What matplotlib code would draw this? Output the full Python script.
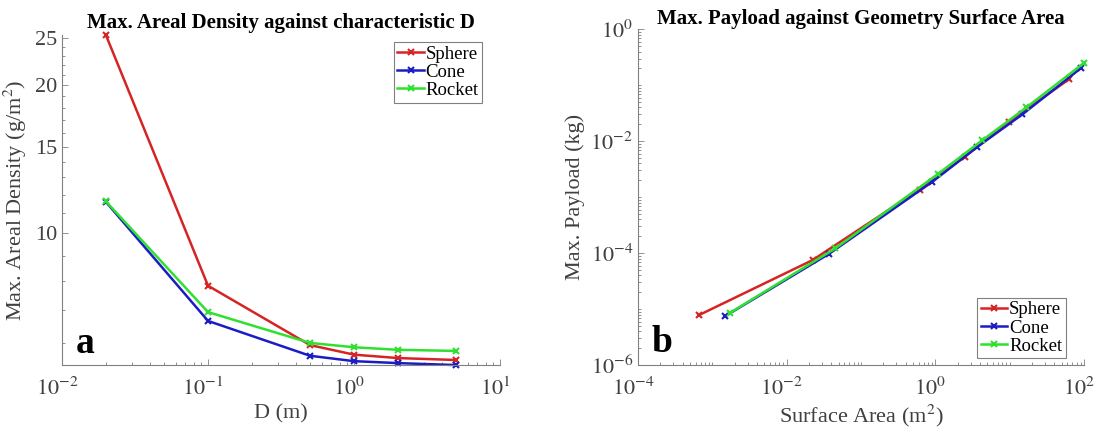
import matplotlib
matplotlib.use('Agg')
import matplotlib.pyplot as plt
import matplotlib.transforms as mtransforms
import numpy as np
from matplotlib.ticker import FixedLocator, LogLocator, NullFormatter, FixedFormatter, FuncFormatter

# characteristic diameter D (m)
diameters = [0.02, 0.1, 0.5, 1, 2, 5]

# max. areal density (g/m^2) for each geometry
sphereDensity = [25.3, 7.83, 5.93, 5.67, 5.58, 5.53]
coneDensity = [11.59, 6.64, 5.64, 5.50, 5.45, 5.40]
rocketDensity = [11.62, 6.92, 5.99, 5.87, 5.80, 5.77]

# surface area (m^2) and max. payload (kg)
sphereArea = [6.6e-4, 0.0223, 0.618, 2.48, 9.8, 63]
spherePayload = [7.8e-6, 7.5e-5, 1.37e-3, 5.25e-3, 0.0221, 0.128]
coneArea = [1.49e-3, 0.0367, 0.908, 3.67, 14.8, 90.6]
conePayload = [7.5e-6, 9.6e-5, 1.87e-3, 7.9e-3, 0.030, 0.201]
rocketArea = [1.74e-3, 0.045, 1.08, 4.29, 16.8, 100]
rocketPayload = [8.6e-6, 1.21e-4, 2.58e-3, 0.0104, 0.040, 0.25]

labels = ['Sphere', 'Cone', 'Rocket']
colors = ['#d62424', '#1c1cc4', '#30e030']
densityTicks = [10, 15, 20, 25]

plt.rcParams['font.family'] = ['Liberation Serif', 'DejaVu Serif']
plt.rcParams['mathtext.fontset'] = 'stix'

axisGray = '#808080'
textGray = '#404040'


def PowerLabel(value, pos):
    return r'$\mathrm{10^{%d}}$' % int(round(np.log10(value)))


def StyleAxes(ax, fig):
    for side in ['top', 'right']:
        ax.spines[side].set_visible(False)
    for side in ['left', 'bottom']:
        ax.spines[side].set_color(axisGray)
        ax.spines[side].set_linewidth(0.8)
    ax.tick_params(which='both', direction='in', colors=axisGray, labelcolor=textGray,
                   labelsize=16, width=0.6)
    ax.tick_params(which='major', length=4)
    ax.tick_params(which='minor', length=2)
    ax.tick_params(axis='x', pad=9)
    # centre the power labels on their base rather than the whole string
    shift = mtransforms.ScaledTranslation(-5 / 100, 0, fig.dpi_scale_trans)
    for lbl in ax.get_xticklabels():
        lbl.set_transform(lbl.get_transform() + shift)


def DrawLines(ax, xs, ys):
    for x, y, label, color in zip(xs, ys, labels, colors):
        ax.plot(x, y, color=color, lw=1.8, marker='x', ms=5, mew=1.5,
                label=label, clip_on=False)


def DrawLegend(ax, loc, anchor):
    leg = ax.legend(loc=loc, bbox_to_anchor=anchor, fontsize=13.5, fancybox=False,
                    edgecolor=axisGray, framealpha=1, handlelength=1.4,
                    handletextpad=0.1, labelspacing=0.05, borderpad=0.2,
                    borderaxespad=0)
    leg.get_frame().set_linewidth(0.8)


fig = plt.figure(figsize=(10.96, 4.3), dpi=100)

# panel a: areal density against D
axA = fig.add_axes([0.0566, 0.151, 0.3996, 0.767])
DrawLines(axA, [diameters] * 3, [sphereDensity, coneDensity, rocketDensity])
axA.set_xscale('log')
axA.set_yscale('log')
axA.set_xlim(1e-2, 1e1)
axA.set_ylim(min(coneDensity), max(sphereDensity))
axA.yaxis.set_major_locator(FixedLocator(densityTicks))
axA.yaxis.set_major_formatter(FixedFormatter([str(t) for t in densityTicks]))
axA.yaxis.set_minor_locator(FixedLocator([v for v in range(6, 26) if v not in densityTicks]))
axA.yaxis.set_minor_formatter(NullFormatter())
axA.xaxis.set_major_locator(FixedLocator([1e-2, 1e-1, 1e0, 1e1]))
axA.xaxis.set_major_formatter(FuncFormatter(PowerLabel))
axA.xaxis.set_minor_locator(LogLocator(base=10, subs=range(2, 10), numticks=20))
axA.xaxis.set_minor_formatter(NullFormatter())
StyleAxes(axA, fig)
axA.set_title('Max. Areal Density against characteristic D', fontsize=15,
              fontweight='bold', pad=5)
axA.set_xlabel('D (m)', fontsize=16, color=textGray, labelpad=3)
axA.set_ylabel('Max. Areal Density (g/m$^2$)', fontsize=16, color=textGray, labelpad=4)
DrawLegend(axA, 'upper right', (0.96, 0.98))
axA.text(0.032, 0.036, 'a', transform=axA.transAxes, fontsize=27, fontweight='bold')

# panel b: payload against surface area
axB = fig.add_axes([0.5821, 0.151, 0.4069, 0.781])
DrawLines(axB, [sphereArea, coneArea, rocketArea],
          [spherePayload, conePayload, rocketPayload])
axB.set_xscale('log')
axB.set_yscale('log')
axB.set_xlim(1e-4, 1e2)
axB.set_ylim(1e-6, 1e0)
axB.xaxis.set_major_locator(FixedLocator([1e-4, 1e-2, 1e0, 1e2]))
axB.yaxis.set_major_locator(FixedLocator([1e-6, 1e-4, 1e-2, 1e0]))
axB.xaxis.set_major_formatter(FuncFormatter(PowerLabel))
axB.yaxis.set_major_formatter(FuncFormatter(PowerLabel))
axB.xaxis.set_minor_locator(LogLocator(base=10, subs=range(1, 10), numticks=20))
axB.yaxis.set_minor_locator(LogLocator(base=10, subs=range(1, 10), numticks=20))
axB.xaxis.set_minor_formatter(NullFormatter())
axB.yaxis.set_minor_formatter(NullFormatter())
StyleAxes(axB, fig)
axB.set_title('Max. Payload against Geometry Surface Area', fontsize=15,
              fontweight='bold', pad=4)
axB.set_xlabel('Surface Area (m$^2$)', fontsize=16, color=textGray, labelpad=2)
axB.set_ylabel('Max. Payload (kg)', fontsize=16, color=textGray, labelpad=4)
DrawLegend(axB, 'lower right', (0.96, 0.02))
axB.text(0.031, 0.039, 'b', transform=axB.transAxes, fontsize=27, fontweight='bold')

fig.savefig('out.png', dpi=100)
